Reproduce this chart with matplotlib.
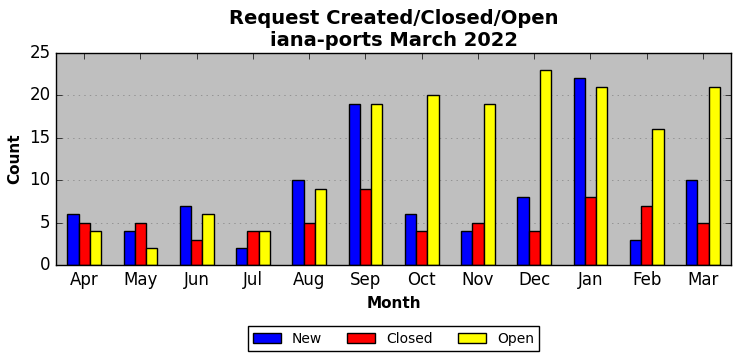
import numpy as np
import matplotlib
matplotlib.use('Agg')
import matplotlib.pyplot as plt

months = ['Apr', 'May', 'Jun', 'Jul', 'Aug', 'Sep', 'Oct', 'Nov', 'Dec', 'Jan', 'Feb', 'Mar']
new = [6, 4, 7, 2, 10, 19, 6, 4, 8, 22, 3, 10]
closed = [5, 5, 3, 4, 5, 9, 4, 5, 4, 8, 7, 5]
opened = [4, 2, 6, 4, 9, 19, 20, 19, 23, 21, 16, 21]

plt.style.use('classic')
fig = plt.figure(figsize=(7.41, 3.61), dpi=100, facecolor='white')
ax = fig.add_axes([56/741, 1-265/361, 675/741, 212/361])
ax.set_facecolor('#bfbfbf')

x = np.arange(len(months))
w = 0.2
ax.bar(x - w, new, w, color='blue', edgecolor='black', label='New', align='center')
ax.bar(x, closed, w, color='red', edgecolor='black', label='Closed', align='center')
ax.bar(x + w, opened, w, color='yellow', edgecolor='black', label='Open', align='center')

ax.set_xlim(-0.5, len(months) - 0.5)
ax.set_ylim(0, 25)
ax.set_xticks(x)
ax.set_xticklabels(months, fontsize=12)
ax.tick_params(axis='y', labelsize=12)
ax.yaxis.grid(True, linestyle=':', color='#808080')
ax.set_axisbelow(True)

ax.set_xlabel('Month', fontsize=11, fontweight='bold')
ax.set_ylabel('Count', fontsize=11, fontweight='bold')
ax.set_title('Request Created/Closed/Open\niana-ports March 2022', fontsize=14, fontweight='bold')

ax.legend(loc='upper center', bbox_to_anchor=(0.5, -0.255), ncol=3, fontsize=10,
          frameon=True, columnspacing=1.8)

fig.savefig('out.png', dpi=100, facecolor='white')
